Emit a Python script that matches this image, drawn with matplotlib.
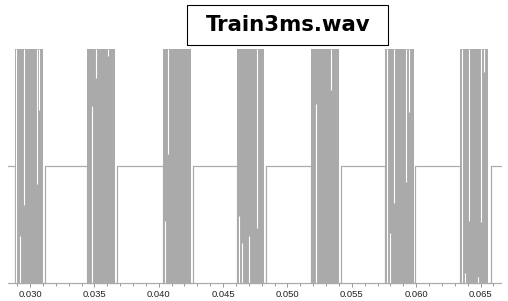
import matplotlib
matplotlib.use('Agg')
import matplotlib.pyplot as plt
from matplotlib.ticker import MultipleLocator, FixedLocator
from matplotlib.patches import Rectangle

# ---------------- data ----------------
title = "Train3ms.wav"
x_range = [0.028291, 0.066583]
tick_values = [0.030, 0.035, 0.040, 0.045, 0.050, 0.055, 0.060, 0.065]
tick_labels = ["0.030", "0.035", "0.040", "0.045", "0.050", "0.055", "0.060", "0.065"]

# clipped tone bursts (start / end in seconds)
burst_start = [0.028835, 0.034427, 0.040330, 0.046078, 0.051825, 0.057573, 0.063398]
burst_end = [0.031010, 0.036602, 0.042505, 0.048175, 0.054000, 0.059825, 0.065573]
# where the signal returns to zero after each burst
silence_start = [0.031165, 0.036757, 0.042660, 0.048330, 0.054155, 0.059942, 0.065806]
amp_hi = 1.0
amp_lo = -1.0

# thin dropouts inside the bursts (time, low, high)
gap_t = [0.028913, 0.029557, 0.029247, 0.030505, 0.030722,
         0.034816, 0.035150, 0.036058,
         0.040447, 0.040742,
         0.046195, 0.046490, 0.047010, 0.047654,
         0.052191, 0.053379,
         0.057759, 0.057961, 0.058295, 0.059243, 0.059437,
         0.063530, 0.063786, 0.064121, 0.064820, 0.065068, 0.065239]
gap_lo = [-1.0, -0.34, -1.0, -0.16, 0.48,
          -1.0, 0.75, 0.94,
          -1.0, 0.10,
          -1.0, -1.0, -1.0, -0.53,
          -1.0, 0.65,
          -1.0, -1.0, -0.32, -0.14, 0.46,
          -1.0, -1.0, -0.47, -1.0, -0.48, 0.80]
gap_hi = [1.0, 1.0, -0.60, 1.0, 1.0,
          0.51, 1.0, 1.0,
          -0.47, 1.0,
          -0.43, -0.66, -0.60, 1.0,
          0.53, 1.0,
          1.0, -0.58, 1.0, 1.0, 1.0,
          1.0, -0.92, 1.0, -0.95, 1.0, 1.0]

# ---------------- figure ----------------
W, H = 508, 301
fig = plt.figure(figsize=(W / 100, H / 100), dpi=100)
fig.patch.set_facecolor('white')

ax = fig.add_axes([8 / W, (H - 282.5) / H, 493 / W, (282.5 - 49) / H])
ax.set_xlim(x_range)
ax.set_ylim(amp_lo, amp_hi)

gray = '#aaaaaa'
px = 0.72

# bursts
for s, e in zip(burst_start, burst_end):
    ax.fill_between([s, e], [amp_lo, amp_lo], [amp_hi, amp_hi],
                    color=gray, linewidth=0)

# silence / edges line
xs = [x_range[0], burst_start[0], burst_start[0]]
ys = [0, 0, amp_lo]
for i in range(len(burst_start)):
    xs += [silence_start[i], silence_start[i]]
    ys += [amp_lo, 0]
    if i + 1 < len(burst_start):
        xs += [burst_start[i + 1], burst_start[i + 1]]
        ys += [0, amp_lo]
    else:
        xs += [x_range[1]]
        ys += [0]
ax.plot(xs, ys, color=gray, lw=px * 1.2, clip_on=False)

# dropouts
ax.vlines(gap_t, gap_lo, gap_hi, colors='white', lw=px * 1.1)

for sp in ['top', 'left', 'right']:
    ax.spines[sp].set_visible(False)
ax.spines['bottom'].set_color(gray)
ax.spines['bottom'].set_linewidth(px * 1.2)

ax.set_yticks([])
ax.xaxis.set_major_locator(FixedLocator(tick_values))
ax.set_xticklabels(tick_labels, fontfamily='Liberation Sans', fontsize=6.8,
                   color='#222222')
ax.xaxis.set_minor_locator(MultipleLocator(0.001))
ax.tick_params(axis='x', which='major', length=3.0, width=px, color='#999999', pad=2.2)
ax.tick_params(axis='x', which='minor', length=1.8, width=px, color='#999999')

# title box
fig.add_artist(Rectangle((187.3 / W, (H - 44.7) / H), 201 / W, 40 / H,
                         transform=fig.transFigure, facecolor='white',
                         edgecolor='black', linewidth=px * 1.1))
fig.text(287.8 / W, (H - 30.7) / H, title, ha='center', va='baseline',
         fontsize=15.3, fontweight='bold', fontfamily='DejaVu Sans', color='black')

fig.savefig('out.png', dpi=100)
